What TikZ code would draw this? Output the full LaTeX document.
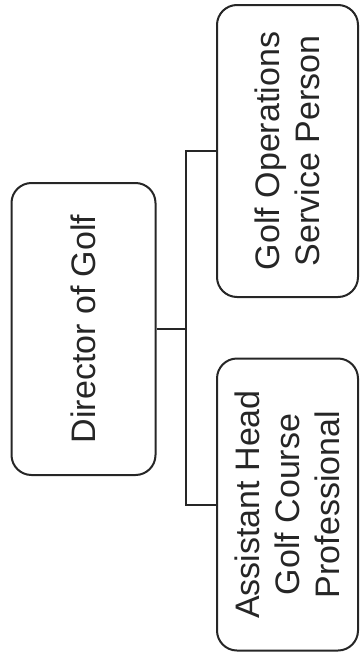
\documentclass[tikz,border=0pt]{standalone}
\usepackage{fontspec}
\setmainfont{Liberation Sans}
\definecolor{ink}{HTML}{262626}
\begin{document}
\begin{tikzpicture}[x=0.5pt, y=-0.5pt, line width=1pt, draw=ink,
    box/.style={draw=ink, rounded corners=10pt, rotate=90, align=center,
        text=ink, font=\fontsize{17}{20}\selectfont, inner sep=0pt,
        minimum width=146pt, minimum height=72pt}]
    \useasboundingbox (0,0) rectangle (360,653);
    \node[box] (dir) at (83.5,329) {Director of Golf};
    \node[box, minimum height=70.5pt] (ops) at (287.5,151) {Golf Operations\\Service Person};
    \node[box, minimum height=70.5pt] (asst) at (287.5,504.5) {Assistant Head\\Golf Course\\Professional};
    \draw (dir.south) -- ++(29,0) coordinate (bus);
    \draw (bus) |- (ops.north);
    \draw (bus) |- (asst.north);
\end{tikzpicture}
\end{document}
